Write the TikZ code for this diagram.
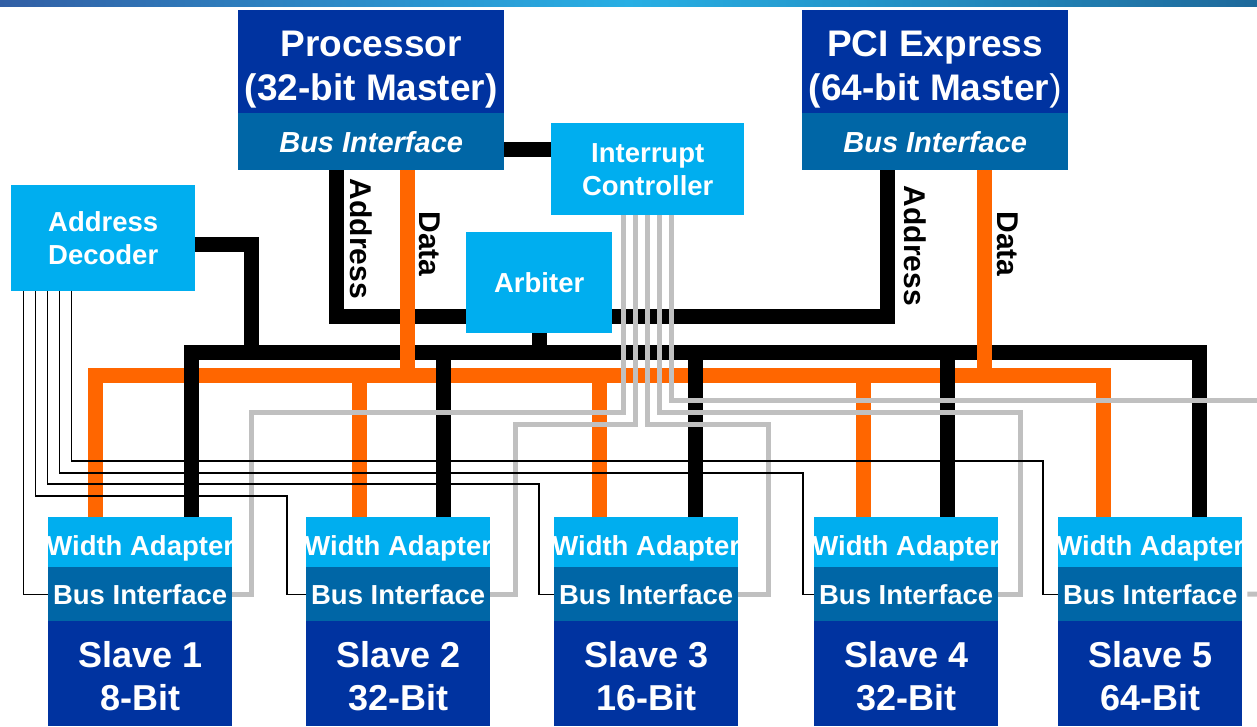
\documentclass[tikz,border=0pt]{standalone}
\usepackage{fontspec}
\setmainfont{Liberation Sans}
\usetikzlibrary{backgrounds}
\definecolor{dkblue}{RGB}{0,51,160}
\definecolor{bimid}{RGB}{0,102,166}
\definecolor{cyanb}{RGB}{0,174,239}
\definecolor{orng}{RGB}{255,102,0}
\definecolor{grayl}{RGB}{192,192,192}
\definecolor{barl}{RGB}{50,95,165}
\definecolor{barm}{RGB}{40,175,228}
\definecolor{barr}{RGB}{30,105,155}
\begin{document}
\begin{tikzpicture}[x=1pt,y=-1pt,
  box/.style={inner sep=0pt, anchor=north west, text=white, align=center},
  txt/.style={inner sep=0pt, text=white, align=center},
  ftitle/.style={font=\fontsize{37}{44}\selectfont\bfseries},
  fbi/.style={font=\fontsize{29}{34}\selectfont\bfseries\itshape},
  fmid/.style={font=\fontsize{27.5}{33}\selectfont\bfseries},
  fslave/.style={font=\fontsize{36}{43}\selectfont\bfseries},
  flabel/.style={font=\fontsize{30}{34}\selectfont\bfseries, inner sep=0pt, rotate=-90},
  bk/.style={line width=15pt, draw=black},
  org/.style={line width=15pt, draw=orng},
  gr/.style={line width=5pt, draw=grayl},
  sel/.style={line width=1.3pt, draw=black}]
\useasboundingbox (0,0) rectangle (1257,726);

% masters
\node[box, fill=dkblue, minimum width=266pt, minimum height=103pt] (proc) at (238,10) {};
\node[txt, ftitle] (proct) at ([yshift=-8pt]proc.center) {Processor\\(32-bit Master)};
\node[box, fbi, fill=bimid, minimum width=266pt, minimum height=57pt] (procbi) at (238,113) {Bus Interface};
\node[box, fill=dkblue, minimum width=266pt, minimum height=103pt] (pci) at (802,10) {};
\node[txt, ftitle] (pcit) at ([yshift=-8pt]pci.center) {PCI Express\\(64-bit Master{\mdseries)}};
\node[box, fbi, fill=bimid, minimum width=266pt, minimum height=57pt] (pcibi) at (802,113) {Bus Interface};

% controllers
\node[box, fmid, fill=cyanb, minimum width=193pt, minimum height=92pt] (intc) at (551,123) {Interrupt\\Controller};
\node[box, fmid, fill=cyanb, minimum width=146pt, minimum height=101pt] (arb) at (466,232) {Arbiter};
\node[box, fmid, fill=cyanb, minimum width=184pt, minimum height=106pt] (dec) at (11,185) {Address\\Decoder};

% slaves
\foreach \i/\x/\b in {1/48/8, 2/306/32, 3/554/16, 4/814/32, 5/1058/64}{
  \node[box, fill=cyanb, minimum width=184pt, minimum height=50pt] (wa\i) at (\x,517) {};
  \node[txt, fmid] (wat\i) at ([yshift=-6pt]wa\i.center) {\makebox[0pt]{Width Adapter}};
  \node[box, fmid, fill=bimid, minimum width=184pt, minimum height=54pt] (bi\i) at (\x,567) {\makebox[0pt]{Bus Interface}};
  \node[box, fill=dkblue, minimum width=184pt, minimum height=105pt] (sl\i) at (\x,621) {};
  \node[txt, fslave] (slt\i) at ([yshift=-2pt]sl\i.center) {Slave \i\\\b-Bit};
}

% labels
\node[flabel] (la1) at (361,239) {Address};
\node[flabel] (ld1) at (430,244) {Data};
\node[flabel] (la2) at (915,246) {Address};
\node[flabel] (ld2) at (1008,244) {Data};

% rails
\coordinate (ay) at (0,316);
\coordinate (mb) at (0,352);
\coordinate (ob) at (0,375);

\begin{scope}[on background layer]
  \shade[left color=barl, right color=barr, middle color=barm] (0,0) rectangle (1257,6);
  % orange data bus
  \draw[org] (wa1.north -| 95,0) -- (ob -| 95,0) -- (ob -| 1103,0) -- (wa5.north -| 1103,0);
  \foreach \i/\x in {2/359, 3/599, 4/863}{
    \draw[org] (ob -| \x,0) -- (wa\i.north -| \x,0);
  }
  % black address lines
  \draw[bk] ([yshift=-7.5pt]procbi.east) -- ([yshift=-7.5pt]procbi.east -| intc.west);
  \draw[bk] (procbi.south -| 336,0) |- (ay -| 887,0) -- (pcibi.south -| 887,0);
  \draw[bk] ([yshift=-6pt]dec.east) -| (mb -| 251,0);
  \draw[bk] (arb.south) -- (arb.south |- mb);
  \draw[bk] (wa1.north -| 191,0) -- (mb -| 191,0) -- (mb -| 1199,0) -- (wa5.north -| 1199,0);
  \foreach \i/\x in {2/443, 3/695, 4/947}{
    \draw[bk] (mb -| \x,0) -- (wa\i.north -| \x,0);
  }
  % master data lines
  \draw[org] (procbi.south -| 407,0) -- (ob -| 407,0);
  \draw[org] (pcibi.south -| 984,0) -- (ob -| 984,0);
  % interrupt lines
  \draw[gr] ([xshift=-24pt]intc.south) |- (251,412) |- (bi1.east);
  \draw[gr] ([xshift=-12pt]intc.south) |- (515,424) |- (bi2.east);
  \draw[gr] (intc.south) |- (768,424) |- (bi3.east);
  \draw[gr] ([xshift=12pt]intc.south) |- (1020,412) |- (bi4.east);
  \coordinate (gend) at (1257,400);
  \draw[gr] ([xshift=24pt]intc.south) |- (gend);
  \coordinate (gstub) at (1257,594);
  \draw[gr] ([xshift=5pt]bi5.east) -- (gstub);
  % select lines
  \draw[sel] ([xshift=-80pt]dec.south) |- (bi1.west);
  \draw[sel] ([xshift=-68pt]dec.south) |- (287,496) |- (bi2.west);
  \draw[sel] ([xshift=-56pt]dec.south) |- (539,484) |- (bi3.west);
  \draw[sel] ([xshift=-44pt]dec.south) |- (803,473) |- (bi4.west);
  \draw[sel] ([xshift=-32pt]dec.south) |- (1043,461) |- (bi5.west);
\end{scope}
\end{tikzpicture}
\end{document}
